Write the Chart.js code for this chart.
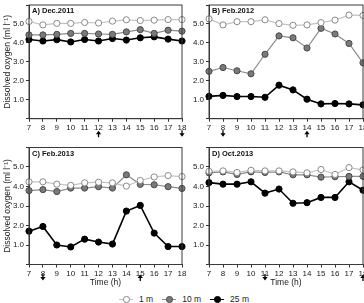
<!DOCTYPE html>
<html>
<head>
<meta charset="utf-8">
<script src="https://cdn.jsdelivr.net/npm/chart.js@4/dist/chart.umd.min.js"></script>
<style>
body { margin: 0; width: 364px; height: 303px; overflow: hidden; background: #fff; position: relative; font-family: "Liberation Sans", Arial, sans-serif; }
canvas { position: absolute; }
#legend { position: absolute; left: 0; top: 293px; width: 364px; height: 12px; display: flex; justify-content: center; align-items: center; font-size: 8.5px; color: #222; padding-left: 4px; box-sizing: border-box; }
.item { display: flex; align-items: center; margin: 0 4.5px; }
.sym { position: relative; width: 14px; height: 8px; margin-right: 6px; }
.sym::before { content: ""; position: absolute; left: 0; right: 0; top: 3.5px; height: 1.2px; background: var(--lc); }
.sym::after { content: ""; position: absolute; left: 4px; top: 1px; width: 4.5px; height: 4.5px; border-radius: 50%; background: var(--fc); border: 1px solid var(--bc); }
</style>
</head>
<body>
<canvas id="cA" width="188" height="140" style="left:0;top:0"></canvas>
<canvas id="cB" width="190" height="140" style="left:180px;top:0"></canvas>
<canvas id="cC" width="188" height="150" style="left:0;top:140px"></canvas>
<canvas id="cD" width="190" height="150" style="left:180px;top:140px"></canvas>
<div id="legend">
  <span class="item"><span class="sym" style="--lc:#c4c4c4;--fc:#fff;--bc:#8a8a8a"></span>1 m</span>
  <span class="item"><span class="sym" style="--lc:#8c8c8c;--fc:#7a7a7a;--bc:#4a4a4a"></span>10 m</span>
  <span class="item"><span class="sym" style="--lc:#000;--fc:#000;--bc:#000"></span>25 m</span>
</div>
<script>
var hours = ['7','8','9','10','11','12','13','14','15','16','17','18'];

var dec11_1m  = [5.13,4.95,5.03,5.03,5.08,5.05,5.15,5.22,5.18,5.20,5.23,5.23];
var dec11_10m = [4.42,4.42,4.45,4.50,4.50,4.47,4.45,4.58,4.70,4.50,4.67,4.62];
var dec11_25m = [4.18,4.10,4.17,4.05,4.18,4.10,4.23,4.15,4.27,4.32,4.20,4.10];

var feb12_1m  = [5.27,4.95,5.12,5.12,5.22,5.02,4.93,4.95,5.07,5.20,5.47,5.45];
var feb12_10m = [2.50,2.70,2.53,2.37,3.40,4.37,4.27,3.73,4.77,4.47,3.97,2.95];
var feb12_25m = [1.18,1.23,1.17,1.17,1.13,1.77,1.52,1.03,0.78,0.80,0.78,0.73];

var feb13_1m  = [4.24,4.24,4.12,4.06,4.19,4.22,4.19,4.02,4.31,4.49,4.56,4.51];
var feb13_10m = [3.79,3.84,3.74,3.92,3.92,3.99,3.92,4.60,4.11,4.09,3.99,3.90];
var feb13_25m = [1.71,1.95,1.00,0.90,1.30,1.15,1.05,2.74,3.03,1.61,0.92,0.92];

var oct13_1m  = [4.78,4.80,4.72,4.83,4.80,4.80,4.75,4.70,4.87,4.62,4.97,4.85];
var oct13_10m = [4.70,4.75,4.62,4.75,4.72,4.75,4.60,4.60,4.48,4.50,4.52,4.52];
var oct13_25m = [4.20,4.12,4.12,4.24,3.66,3.87,3.14,3.17,3.44,3.44,4.24,3.81];

// arrows under the time axis: [hour, direction]
var arrowsA = [['12','up'], ['18','down']];
var arrowsB = [['8','down'], ['14','up']];
var arrowsC = [['8','down'], ['15','up']];
var arrowsD = [['11','down'], ['18','up']];

var yTitle = 'Dissolved oxygen (ml l\u207B\u00B9)';
var font = '"Liberation Sans", Arial, sans-serif';

var panelPlugin = {
    id: 'panel',
    afterDraw: function (chart, args, opts) {
        var ctx = chart.ctx, a = chart.chartArea;
        ctx.save();
        ctx.strokeStyle = '#3a3a3a';
        ctx.lineWidth = 1;
        ctx.strokeRect(a.left, a.top, a.right - a.left, a.bottom - a.top);
        ctx.fillStyle = '#111';
        ctx.font = 'bold 7.5px ' + font;
        ctx.textBaseline = 'middle';
        ctx.fillText(opts.title, a.left + 3, a.top + 6);
        var xs = chart.scales.x;
        (opts.arrows || []).forEach(function (ar) {
            var x = xs.getPixelForValue(hours.indexOf(ar[0]));
            var y0 = a.bottom + opts.arrowY;
            ctx.fillStyle = '#000';
            ctx.strokeStyle = '#000';
            ctx.lineWidth = 1.3;
            ctx.beginPath();
            if (ar[1] == 'up') {
                ctx.moveTo(x, y0 - 3); ctx.lineTo(x - 2.6, y0 + 0.5); ctx.lineTo(x + 2.6, y0 + 0.5);
                ctx.closePath(); ctx.fill();
                ctx.beginPath(); ctx.moveTo(x, y0); ctx.lineTo(x, y0 + 3.5); ctx.stroke();
            } else {
                ctx.moveTo(x, y0 + 3); ctx.lineTo(x - 2.6, y0 - 0.5); ctx.lineTo(x + 2.6, y0 - 0.5);
                ctx.closePath(); ctx.fill();
                ctx.beginPath(); ctx.moveTo(x, y0); ctx.lineTo(x, y0 - 3.5); ctx.stroke();
            }
        });
        ctx.restore();
    }
};

function makePanel(id, title, arrows, d1, d10, d25, geo) {
    var ctx = document.getElementById(id).getContext('2d');
    return new Chart(ctx, {
        type: 'line',
        data: {
            labels: hours,
            datasets: [
                { label: '1 m', data: d1, borderColor: '#c4c4c4', borderWidth: 1.2,
                  pointBackgroundColor: '#fff', pointBorderColor: '#8a8a8a', pointBorderWidth: 1, pointRadius: 3.1 },
                { label: '10 m', data: d10, borderColor: '#8c8c8c', borderWidth: 1.2,
                  pointBackgroundColor: '#7a7a7a', pointBorderColor: '#4a4a4a', pointBorderWidth: 1, pointRadius: 3.1 },
                { label: '25 m', data: d25, borderColor: '#000', borderWidth: 1.6,
                  pointBackgroundColor: '#000', pointBorderColor: '#000', pointBorderWidth: 1, pointRadius: 3.1 }
            ]
        },
        options: {
            responsive: false,
            animation: false,
            devicePixelRatio: 1,
            layout: { padding: { top: geo.top, right: geo.right, left: 0, bottom: 0 } },
            plugins: {
                legend: { display: false },
                tooltip: { enabled: false },
                panel: { title: title, arrows: arrows, arrowY: geo.arrowY }
            },
            scales: {
                x: {
                    offset: false,
                    grid: { drawOnChartArea: false, drawTicks: true, tickLength: 3, color: '#333' },
                    border: { color: '#3a3a3a' },
                    ticks: { padding: 1, maxRotation: 0, autoSkip: false, color: '#1a1a1a', font: { family: font, size: 8 } },
                    title: { display: geo.xTitle, text: 'Time (h)', color: '#1a1a1a', padding: { top: 0, bottom: 2 }, font: { family: font, size: 8.5 } },
                    afterFit: function (s) { s.height = geo.xh; s.paddingLeft = 0; s.paddingRight = 0; }
                },
                y: {
                    min: 0,
                    max: 6,
                    grid: { drawOnChartArea: false, drawTicks: true, tickLength: 3, color: '#333' },
                    border: { color: '#3a3a3a' },
                    ticks: {
                        stepSize: 0.5, padding: 2, color: '#1a1a1a', font: { family: font, size: 8 },
                        callback: function (v) { return (v >= 1 && v <= 5 && v % 1 == 0) ? v.toFixed(1) : ''; }
                    },
                    title: { display: geo.yTitle, text: yTitle, color: '#1a1a1a', padding: { top: 2.4, bottom: 0 }, font: { family: font, size: 8.5 } },
                    afterFit: function (s) { s.width = 29; s.paddingTop = 0; s.paddingBottom = 0; }
                }
            }
        },
        plugins: [panelPlugin]
    });
}

makePanel('cA', 'A) Dec.2011', arrowsA, dec11_1m, dec11_10m, dec11_25m,
    { top: 1.5, right: 6, xh: 21.3, arrowY: 15, xTitle: false, yTitle: true });
makePanel('cB', 'B) Feb.2012', arrowsB, feb12_1m, feb12_10m, feb12_25m,
    { top: 1.5, right: 7, xh: 21.3, arrowY: 15, xTitle: false, yTitle: false });
makePanel('cC', 'C) Feb.2013', arrowsC, feb13_1m, feb13_10m, feb13_25m,
    { top: 7.5, right: 6, xh: 25.5, arrowY: 13, xTitle: true, yTitle: true });
makePanel('cD', 'D) Oct.2013', arrowsD, oct13_1m, oct13_10m, oct13_25m,
    { top: 7.5, right: 7, xh: 25.5, arrowY: 13, xTitle: true, yTitle: false });
</script>
</body>
</html>
